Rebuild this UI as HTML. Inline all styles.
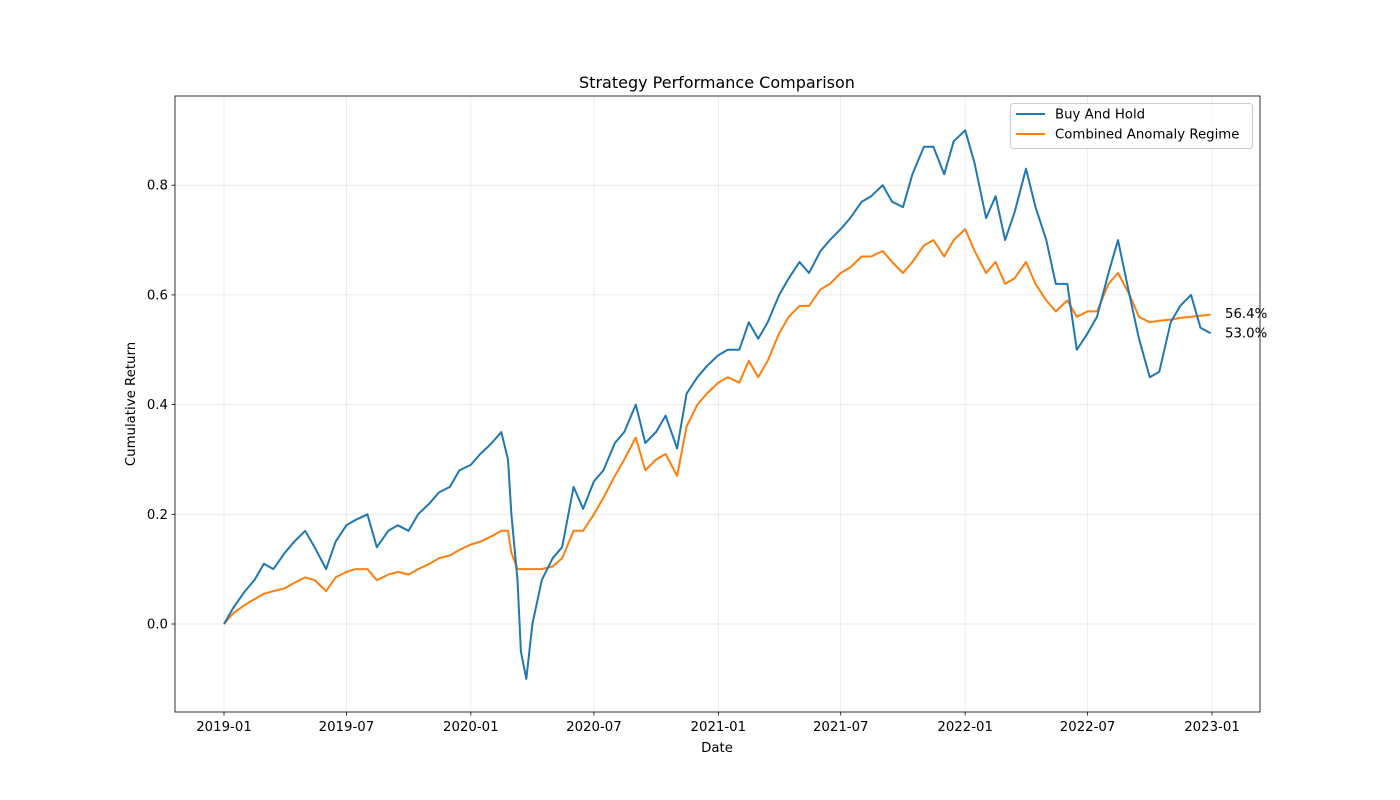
<!DOCTYPE html>
<html><head><meta charset="utf-8">
<style>
html,body{margin:0;padding:0;background:#fff;}
svg{display:block;font-family:"DejaVu Sans","Liberation Sans",sans-serif;}
</style></head>
<body>
<svg id="chart" width="1400" height="800" xmlns="http://www.w3.org/2000/svg"></svg>
<script>
const dates = ["2019-01-01","2019-01-15","2019-02-01","2019-02-15","2019-03-01","2019-03-15","2019-04-01","2019-04-15","2019-05-01","2019-05-15","2019-06-01","2019-06-15","2019-07-01","2019-07-15","2019-08-01","2019-08-15","2019-09-01","2019-09-15","2019-10-01","2019-10-15","2019-11-01","2019-11-15","2019-12-01","2019-12-15",
"2020-01-01","2020-01-15","2020-02-01","2020-02-15","2020-02-25","2020-03-01","2020-03-10","2020-03-15","2020-03-23","2020-04-01","2020-04-15","2020-05-01","2020-05-15","2020-06-01","2020-06-15","2020-07-01","2020-07-15","2020-08-01","2020-08-15","2020-09-01","2020-09-15","2020-10-01","2020-10-15","2020-11-01","2020-11-15","2020-12-01","2020-12-15",
"2021-01-01","2021-01-15","2021-02-01","2021-02-15","2021-03-01","2021-03-15","2021-04-01","2021-04-15","2021-05-01","2021-05-15","2021-06-01","2021-06-15","2021-07-01","2021-07-15","2021-08-01","2021-08-15","2021-09-01","2021-09-15","2021-10-01","2021-10-15","2021-11-01","2021-11-15","2021-12-01","2021-12-15",
"2022-01-01","2022-01-15","2022-02-01","2022-02-15","2022-03-01","2022-03-15","2022-04-01","2022-04-15","2022-05-01","2022-05-15","2022-06-01","2022-06-15","2022-07-01","2022-07-15","2022-08-01","2022-08-15","2022-09-01","2022-09-15","2022-10-01","2022-10-15","2022-11-01","2022-11-15","2022-12-01","2022-12-15","2022-12-30"];
const buyHold = [0.0,0.03,0.06,0.08,0.11,0.10,0.13,0.15,0.17,0.14,0.10,0.15,0.18,0.19,0.20,0.14,0.17,0.18,0.17,0.20,0.22,0.24,0.25,0.28,
0.29,0.31,0.33,0.35,0.30,0.20,0.08,-0.05,-0.10,0.0,0.08,0.12,0.14,0.25,0.21,0.26,0.28,0.33,0.35,0.40,0.33,0.35,0.38,0.32,0.42,0.45,0.47,
0.49,0.50,0.50,0.55,0.52,0.55,0.60,0.63,0.66,0.64,0.68,0.70,0.72,0.74,0.77,0.78,0.80,0.77,0.76,0.82,0.87,0.87,0.82,0.88,
0.90,0.84,0.74,0.78,0.70,0.75,0.83,0.76,0.70,0.62,0.62,0.50,0.53,0.56,0.64,0.70,0.60,0.52,0.45,0.46,0.55,0.58,0.60,0.54,0.53];
const anomaly = [0.0,0.02,0.035,0.045,0.055,0.06,0.065,0.075,0.085,0.08,0.06,0.085,0.095,0.10,0.10,0.08,0.09,0.095,0.09,0.10,0.11,0.12,0.125,0.135,
0.145,0.15,0.16,0.17,0.17,0.13,0.10,0.10,0.10,0.10,0.10,0.105,0.12,0.17,0.17,0.20,0.23,0.27,0.30,0.34,0.28,0.30,0.31,0.27,0.36,0.40,0.42,
0.44,0.45,0.44,0.48,0.45,0.48,0.53,0.56,0.58,0.58,0.61,0.62,0.64,0.65,0.67,0.67,0.68,0.66,0.64,0.66,0.69,0.70,0.67,0.70,
0.72,0.68,0.64,0.66,0.62,0.63,0.66,0.62,0.59,0.57,0.59,0.56,0.57,0.57,0.62,0.64,0.60,0.56,0.55,0.553,0.555,0.558,0.56,0.562,0.564];
const yTicks = [0.0,0.2,0.4,0.6,0.8];
const xTicks = ["2019-01","2019-07","2020-01","2020-07","2021-01","2021-07","2022-01","2022-07","2023-01"];

const NS="http://www.w3.org/2000/svg";
const svg=document.getElementById('chart');
const L=175,R=1260,T=96,B=712;
const t0=Date.parse("2019-01-01"), t1=Date.parse("2023-01-01");
function xs(d){return 224+(Date.parse(d)-t0)/(t1-t0)*988;}
function ys(v){return 624-548.5*v;}
function el(tag,attrs,parent){const e=document.createElementNS(NS,tag);for(const k in attrs)e.setAttribute(k,attrs[k]);(parent||svg).appendChild(e);return e;}

el('rect',{x:0,y:0,width:1400,height:800,fill:'#fff'});
const grid=el('g',{});


yTicks.forEach(v=>{
  const y=ys(v);
  el('line',{x1:L,x2:R,y1:y,y2:y,stroke:'#b0b0b0','stroke-opacity':0.3,'stroke-width':0.8},grid);
  el('line',{x1:L-3.5,x2:L,y1:y,y2:y,stroke:'#000','stroke-width':0.8});
  const t=el('text',{x:L-7,y:y+4.5,'text-anchor':'end','font-size':13.3,fill:'#000'});
  t.textContent=v.toFixed(1);
  
  
});
xTicks.forEach(d=>{
  const x=xs(d+"-01");
  el('line',{x1:x,x2:x,y1:T,y2:B,stroke:'#b0b0b0','stroke-opacity':0.3,'stroke-width':0.8},grid);
  el('line',{x1:x,x2:x,y1:B,y2:B+3.5,stroke:'#000','stroke-width':0.8});
  const t=el('text',{x:x,y:B+19,'text-anchor':'middle','font-size':13.3,fill:'#000'});
  t.textContent=d;
  
  
});
function line(vals,color,name){
  const p=el('polyline',{points:dates.map((d,i)=>xs(d).toFixed(1)+","+ys(vals[i]).toFixed(1)).join(" "),fill:'none',stroke:color,'stroke-width':2,'stroke-linejoin':'round'});
  
  
}
line(anomaly,'#ff7f0e','combined-anomaly-regime-line');
line(buyHold,'#1f77b4','buy-and-hold-line');

const frame=el('rect',{x:L,y:T,width:R-L,height:B-T,fill:'none',stroke:'#000','stroke-width':0.8});



const endA=el('text',{x:1225,y:ys(anomaly[anomaly.length-1])+3.5,'font-size':13.3,fill:'#000'});
endA.textContent=(anomaly[anomaly.length-1]*100).toFixed(1)+"%";


const endB=el('text',{x:1225,y:ys(buyHold[buyHold.length-1])+4,'font-size':13.3,fill:'#000'});
endB.textContent=(buyHold[buyHold.length-1]*100).toFixed(1)+"%";



const title=el('text',{x:717,y:88,'text-anchor':'middle','font-size':16,fill:'#000'});
title.textContent="Strategy Performance Comparison";


const xl=el('text',{x:717,y:752,'text-anchor':'middle','font-size':13.3,fill:'#000'});
xl.textContent="Date";


const yl=el('text',{x:135,y:404,'text-anchor':'middle','font-size':13.3,fill:'#000',transform:'rotate(-90 135 404)'});
yl.textContent="Cumulative Return";



const lg=el('g',{});


el('rect',{x:1010.5,y:103.5,width:242,height:45,rx:3,fill:'#fff','fill-opacity':0.8,stroke:'#ccc','stroke-width':1},lg);
[["Buy And Hold",'#1f77b4',114],["Combined Anomaly Regime",'#ff7f0e',134]].forEach(([n,c,y])=>{
  const g=el('g',{},lg);
  
  
  el('line',{x1:1016,x2:1045,y1:y,y2:y,stroke:c,'stroke-width':2},g);
  const t=el('text',{x:1055,y:y+4.5,'font-size':13.3,fill:'#000'},g);
  t.textContent=n;
});
</script>
</body></html>
